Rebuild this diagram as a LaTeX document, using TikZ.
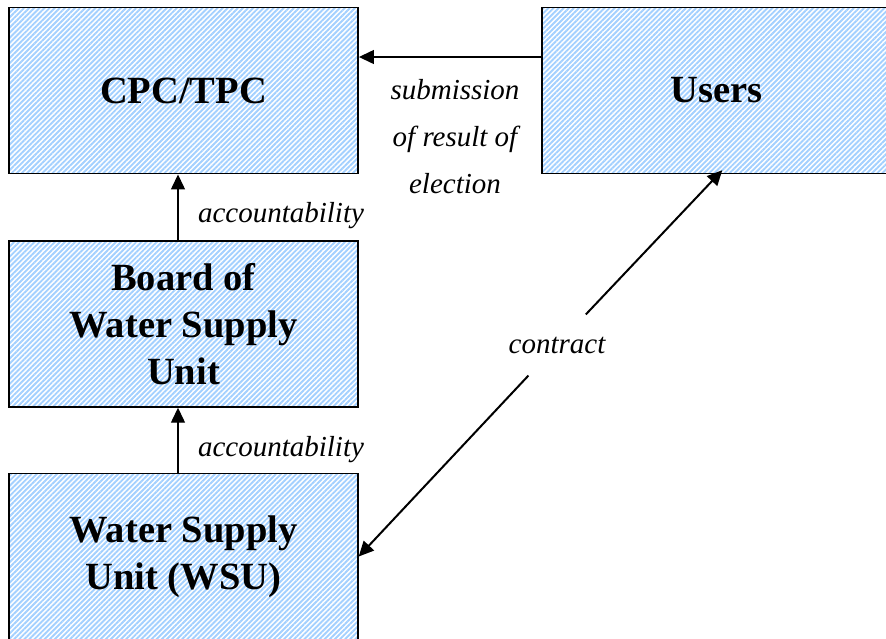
\documentclass[tikz,border=0pt]{standalone}
\usepackage{fontspec}
\setmainfont{Liberation Serif}
\usetikzlibrary{arrows.meta,patterns.meta}
\definecolor{hatchblue}{HTML}{A3D0FF}

\begin{document}
\begin{tikzpicture}[x=1pt, y=-1pt,
    unit/.style={rectangle, draw=black, line width=1.4pt,
      pattern={Lines[angle=45, distance=3.6pt, line width=1.9pt]}, pattern color=hatchblue,
      minimum width=349pt, minimum height=166pt, inner sep=0pt,
      font=\fontsize{38.5}{47}\selectfont\bfseries, align=center},
    rel/.style={draw=black, line width=1.3pt, -{Triangle[length=15pt, width=14pt]}},
    note/.style={font=\fontsize{29}{47}\selectfont\itshape, align=center},
  ]
  \useasboundingbox (0,0) rectangle (886,638);
  \clip (0,0) rectangle (886,638);

  % ================= the four units
  \node[unit] (cpc)   at (183.5,90.5)  {CPC/TPC};
  \node[unit] (users) at (716.5,90.5)  {Users};
  \node[unit] (board) at (183.5,324)   {Board of\\Water Supply\\Unit};
  \node[unit] (wsu)   at (183.5,556.5) {Water Supply\\Unit (WSU)};

  % ================= labels
  \node[note] (elect) at (455,137) {submission\\of result of\\election};
  \node[note] (acc1) at (281,216) {accountability};
  \node[note] (acc2) at (281,450) {accountability};
  \node[note, inner xsep=2pt, inner ysep=22pt] (contract) at (557,345) {contract};

  % ================= relations
  \draw[rel] ([yshift=33.5pt]users.west) -- ([yshift=33.5pt]cpc.east);
  \draw[rel] ([xshift=-5.5pt]board.north) -- ([xshift=-5.5pt]cpc.south);
  \draw[rel] ([xshift=-5.5pt]wsu.north) -- ([xshift=-5.5pt]board.south);
  % contract runs both ways, broken by its label
  \draw[rel, line width=2pt] (contract) -- ([xshift=181pt, yshift=4pt]users.south west);
  \draw[rel, line width=2pt] (contract) -- (wsu.east);
\end{tikzpicture}
\end{document}
